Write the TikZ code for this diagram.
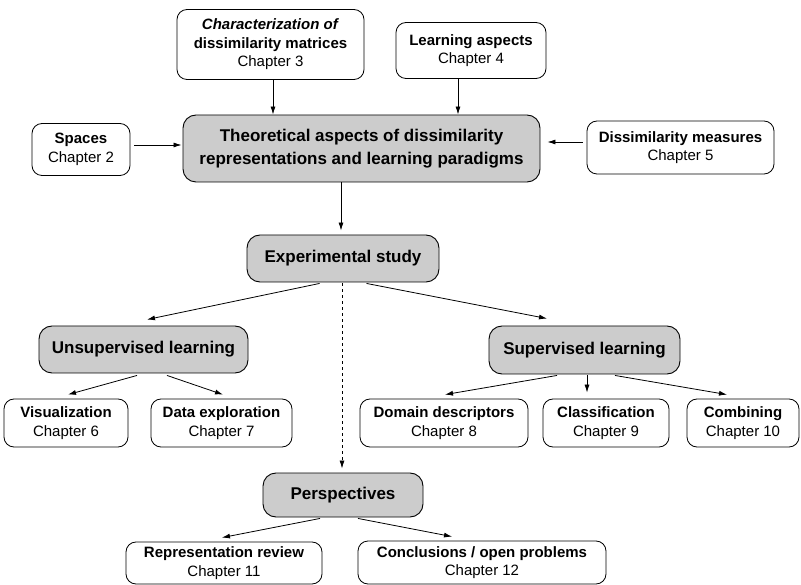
\documentclass[tikz,border=0pt]{standalone}
\usepackage{fontspec}
\setmainfont{Liberation Sans}
\usetikzlibrary{arrows.meta,calc}
\begin{document}
\begin{tikzpicture}[x=1pt,y=-1pt,
  chapbox/.style={draw, line width=0.8pt, rounded corners=10pt, align=center,
    inner sep=0pt, font=\fontsize{15}{18.5}\selectfont},
  topicbox/.style={draw, line width=0.9pt, rounded corners=13pt, fill=black!20,
    align=center, inner sep=0pt, font=\fontsize{17}{22.5}\selectfont\bfseries},
  link/.style={line width=0.8pt, -{Latex[length=8pt,width=5pt]}},
]
\useasboundingbox (0,0) rectangle (801,585);

% theory part
\node[topicbox, minimum width=357pt, minimum height=67pt] (theo) at (361.5,148.5)
  {Theoretical aspects of dissimilarity\\representations and learning paradigms};
\node[chapbox, minimum width=98pt, minimum height=52pt] (spaces) at (81,149.5)
  {\textbf{Spaces}\\Chapter 2};
\node[chapbox, minimum width=187pt, minimum height=70pt] (char) at (270.5,44.5)
  {\textbf{\textit{Characterization of}}\\\textbf{dissimilarity matrices}\\Chapter 3};
\node[chapbox, minimum width=150pt, minimum height=56pt] (learn) at (471,50.5)
  {\textbf{Learning aspects}\\Chapter 4};
\node[chapbox, minimum width=187pt, minimum height=53pt] (dissim) at (680.5,147.5)
  {\textbf{Dissimilarity measures}\\Chapter 5};

% experimental part
\node[topicbox, minimum width=192pt, minimum height=47pt] (exp) at (343,258.5)
  {Experimental study};
\node[topicbox, minimum width=209pt, minimum height=47pt] (unsup) at (143.5,349.5)
  {Unsupervised learning};
\node[topicbox, minimum width=191pt, minimum height=48pt] (sup) at (584.5,350)
  {Supervised learning};
\node[chapbox, minimum width=124pt, minimum height=48pt] (vis) at (66,423)
  {\textbf{Visualization}\\Chapter 6};
\node[chapbox, minimum width=141pt, minimum height=48pt] (data) at (221.5,423)
  {\textbf{Data exploration}\\Chapter 7};
\node[chapbox, minimum width=168pt, minimum height=48pt] (domain) at (444,423)
  {\textbf{Domain descriptors}\\Chapter 8};
\node[chapbox, minimum width=126pt, minimum height=48pt] (classif) at (606,423)
  {\textbf{Classification}\\Chapter 9};
\node[chapbox, minimum width=112pt, minimum height=48pt] (comb) at (743,423)
  {\textbf{Combining}\\Chapter 10};

% perspectives
\node[topicbox, minimum width=160pt, minimum height=44pt] (persp) at (343,495)
  {Perspectives};
\node[chapbox, minimum width=196pt, minimum height=42pt] (rep) at (224,563)
  {\textbf{Representation review}\\Chapter 11};
\node[chapbox, minimum width=248pt, minimum height=43pt] (concl) at (482,562.5)
  {\textbf{Conclusions / open problems}\\Chapter 12};

% connectors into the theory box
\draw[link] ($(spaces.east)+(4,-4.5)$) -- ($(spaces.east -| theo.west)+(-1,-4.5)$);
\draw[link] ($(char.south)+(2.5,0)$) -- ($(char.south |- theo.north)+(2.5,0)$);
\draw[link] ($(learn.south)+(-13,0)$) -- ($(learn.south |- theo.north)+(-13,0)$);
\draw[link] ($(dissim.west)+(-4,-5.5)$) -- ($(dissim.west -| theo.east)+(7,-5.5)$);
\draw[link] ($(theo.south -| exp.north)+(-2,0)$) -- ($(exp.north)+(-2,-4)$);

% experimental study
\draw[link] ($(exp.south west)+(73,1)$) -- ($(unsup.north)+(3.5,-6)$);
\draw[link] ($(exp.south west)+(120,1)$) -- ($(sup.north)+(-37.5,-7)$);
\draw[link, dashed] ($(exp.south)+(-1,1)$) -- ($(persp.north)+(-1,-4)$);

\draw[link] ($(unsup.south)+(-6.5,2)$) -- ($(vis.north)+(2,-4)$);
\draw[link] ($(unsup.south)+(23.5,2)$) -- ($(data.north)+(1.5,-4)$);

\draw[link] ($(sup.south)+(-27.5,1)$) -- ($(domain.north)+(1,-4)$);
\draw[link] ($(sup.south)+(2.5,1)$) -- ($(sup.south |- classif.north)+(2.5,-6)$);
\draw[link] ($(sup.south)+(30.5,1)$) -- ($(comb.north)+(-16,-4)$);

\draw[link] ($(persp.south)+(-23,1)$) -- ($(rep.north)+(-2,-4)$);
\draw[link] ($(persp.south)+(15,1)$) -- ($(concl.north)+(-30,-4)$);
\end{tikzpicture}
\end{document}
